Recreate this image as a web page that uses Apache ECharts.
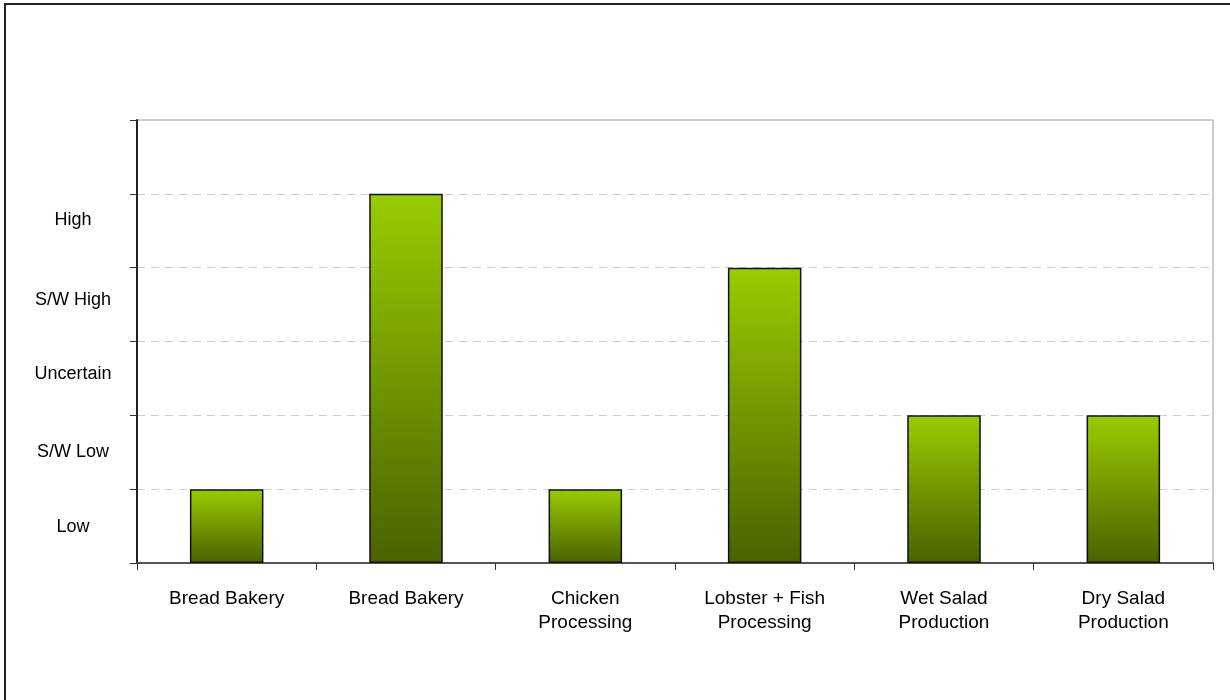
<!DOCTYPE html>
<html>
<head>
<meta charset="utf-8">
<script src="https://cdn.jsdelivr.net/npm/echarts@6/dist/echarts.min.js"></script>
<style>
  html, body { margin: 0; padding: 0; background: #fff; }
  #chart { width: 1230px; height: 700px; }
</style>
</head>
<body>
<div id="chart"></div>
<script>
// Process categories along the x axis
const categories = [
  'Bread Bakery',
  'Bread Bakery',
  'Chicken\nProcessing',
  'Lobster + Fish\nProcessing',
  'Wet Salad\nProduction',
  'Dry Salad\nProduction'
];
// Rating level for each process (0 = bottom of scale)
const ratings = [1, 5, 1, 4, 2, 2];
// Rating band names, bottom to top
const levelLabels = ['Low', 'S/W Low', 'Uncertain', 'S/W High', 'High'];

// Where each band name sits on the rating scale (layout only)
const levelLabelPos = [0.49, 1.5, 2.56, 3.56, 4.65];

const FONT = '"Liberation Sans", Arial, sans-serif';

const chart = echarts.init(document.getElementById('chart'), null, { renderer: 'canvas' });

chart.setOption({
  animation: false,
  backgroundColor: '#ffffff',
  graphic: [{
    type: 'rect',
    shape: { x: 5, y: 4, width: 1240, height: 720 },
    style: { fill: 'none', stroke: '#222', lineWidth: 2 },
    silent: true,
    z: 100
  }],
  grid: {
    left: 137, right: 17, top: 120, bottom: 137,
    show: true, borderColor: '#999', borderWidth: 1
  },
  xAxis: {
    type: 'category',
    data: categories,
    axisLine: { lineStyle: { color: '#555', width: 2 } },
    axisTick: { show: true, length: 7, lineStyle: { color: '#333' } },
    axisLabel: {
      color: '#000', fontFamily: FONT, fontSize: 19, lineHeight: 24,
      margin: 24, interval: 0
    },
    splitLine: { show: false }
  },
  yAxis: [{
    type: 'value',
    min: 0, max: 6, interval: 1,
    position: 'left',
    axisLine: { show: true, lineStyle: { color: '#222', width: 2 } },
    axisTick: { show: true, length: 7, lineStyle: { color: '#333' } },
    axisLabel: { show: false },
    splitLine: { show: true, lineStyle: { color: '#ccc', type: [8, 6], width: 1 } }
  }, {
    type: 'value',
    min: 0, max: 6,
    position: 'left',
    axisLine: { show: false },
    axisTick: { show: false },
    splitLine: { show: false },
    axisLabel: {
      color: '#000', fontFamily: FONT, fontSize: 18,
      align: 'center', margin: 64,
      customValues: levelLabelPos,
      formatter: function (v) {
        const i = levelLabelPos.indexOf(v);
        return i >= 0 ? levelLabels[i] : '';
      }
    }
  }],
  series: [{
    type: 'bar',
    yAxisIndex: 0,
    data: ratings,
    barWidth: '41%',
    itemStyle: {
      color: new echarts.graphic.LinearGradient(0, 0, 0, 1, [
        { offset: 0, color: '#99cc00' },
        { offset: 1, color: '#4a6200' }
      ]),
      borderColor: '#111',
      borderWidth: 1.5
    }
  }]
});
</script>
</body>
</html>
